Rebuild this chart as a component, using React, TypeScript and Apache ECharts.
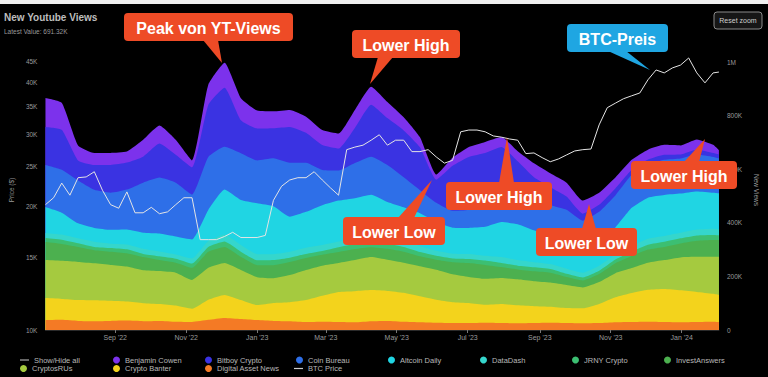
import React, { useEffect, useRef } from "react";
import * as echarts from "echarts";

// ---- data (views in thousands, BTC price in thousand USD) ----
const dates = [
  "2022-07-03","2022-07-17","2022-07-31","2022-08-14","2022-08-28","2022-09-11","2022-09-25","2022-10-09","2022-10-23","2022-11-06",
  "2022-11-20","2022-12-04","2022-12-18","2023-01-01","2023-01-15","2023-01-29","2023-02-12","2023-02-26","2023-03-12","2023-03-26",
  "2023-04-09","2023-04-23","2023-05-07","2023-05-21","2023-06-04","2023-06-18","2023-07-02","2023-07-16","2023-07-30","2023-08-13",
  "2023-08-27","2023-09-10","2023-09-24","2023-10-08","2023-10-22","2023-11-05","2023-11-19","2023-12-03","2023-12-17","2023-12-31",
  "2024-01-14","2024-01-28","2024-02-02"
];
const digitalAssetNews = [37,38,34,33,34,35,33,34,31,30,38,45,41,37,34,33,30,31,30,29,33,34,31,29,27,26,26,27,26,25,26,27,26,25,26,29,30,31,30,29,30,31,30];
const cryptoBanter = [82,78,78,78,75,71,67,63,60,49,75,86,71,56,67,71,82,97,112,116,116,112,108,97,86,78,75,67,71,67,63,60,56,56,71,93,108,119,123,119,112,104,101];
const cryptosRUs = [142,142,142,138,134,131,123,123,123,108,119,119,112,104,92,101,112,112,108,116,123,116,112,112,112,104,97,97,97,97,93,90,86,78,82,90,93,101,108,123,131,138,142];
const investAnswers = [67,63,56,49,49,49,49,41,37,45,60,60,49,45,49,49,45,41,41,41,37,41,41,37,37,45,52,52,41,37,37,37,30,26,30,37,45,49,49,52,60,63,63];
const jrnyCrypto = [15,16,14,12,14,15,12,14,15,16,18,20,19,18,19,16,15,14,18,19,20,19,18,16,15,14,15,16,15,14,15,14,12,11,12,14,16,18,19,19,20,19,18];
const dataDash = [19,19,18,19,16,18,19,18,16,19,22,26,25,23,22,22,23,22,21,22,23,22,21,22,19,18,19,18,22,21,19,18,19,18,19,19,22,23,22,21,22,23,22];
const altcoinDaily = [97,82,56,52,52,56,60,67,67,71,116,168,168,190,179,131,134,149,153,149,153,134,127,123,108,97,97,108,131,134,119,101,101,108,97,101,142,153,153,146,142,134,134];
const coinBureau = [157,160,160,142,138,149,187,209,201,168,198,160,175,160,179,201,183,131,112,131,142,138,112,86,71,63,67,75,82,104,112,119,119,86,104,119,123,123,131,131,138,134,131];
const bitboyCrypto = [142,149,75,93,104,101,97,127,104,101,194,220,123,119,112,134,112,93,82,131,194,175,175,160,86,168,198,201,198,131,86,67,49,26,26,26,19,19,19,15,19,15,15];
const benjaminCowen = [108,101,56,45,45,41,63,67,56,26,75,93,82,67,63,63,60,56,56,67,67,60,49,37,19,30,37,41,37,37,52,52,52,49,45,41,37,37,37,34,37,30,15];

const btcDates = [
  "2022-07-03","2022-07-10","2022-07-17","2022-07-24","2022-07-31","2022-08-07","2022-08-14","2022-08-21","2022-08-28","2022-09-04",
  "2022-09-11","2022-09-18","2022-09-25","2022-10-02","2022-10-09","2022-10-16","2022-10-23","2022-10-30","2022-11-06","2022-11-13",
  "2022-11-20","2022-11-27","2022-12-04","2022-12-11","2022-12-18","2022-12-25","2023-01-01","2023-01-08","2023-01-15","2023-01-22",
  "2023-01-29","2023-02-05","2023-02-12","2023-02-19","2023-02-26","2023-03-05","2023-03-12","2023-03-19","2023-03-26","2023-04-02",
  "2023-04-09","2023-04-16","2023-04-23","2023-04-30","2023-05-07","2023-05-14","2023-05-21","2023-05-28","2023-06-04","2023-06-11",
  "2023-06-18","2023-06-25","2023-07-02","2023-07-09","2023-07-16","2023-07-23","2023-07-30","2023-08-06","2023-08-13","2023-08-20",
  "2023-08-27","2023-09-03","2023-09-10","2023-09-17","2023-09-24","2023-10-01","2023-10-08","2023-10-15","2023-10-22","2023-10-29",
  "2023-11-05","2023-11-12","2023-11-19","2023-11-26","2023-12-03","2023-12-10","2023-12-17","2023-12-24","2023-12-31","2024-01-07",
  "2024-01-14","2024-01-21","2024-01-28","2024-02-02"
];
const btcPrice = [
  20.2,21.0,22.8,21.3,23.5,23.6,24.3,21.9,20.2,19.8,
  21.7,19.3,19.3,19.9,19.2,19.4,20.2,21.0,21.0,16.6,
  16.6,16.6,16.9,17.3,16.8,16.8,16.8,17.0,20.7,22.4,
  23.2,23.5,23.5,24.3,23.2,22.2,21.3,27.5,27.9,28.2,
  29.0,29.9,28.2,29.0,29.0,27.2,27.2,27.5,26.4,25.5,
  25.9,30.4,30.7,30.7,30.4,29.7,29.5,29.2,29.0,26.9,
  27.0,26.3,25.7,26.1,26.7,27.3,27.5,27.6,31.6,34.8,
  35.7,36.6,37.2,37.8,40.7,43.0,42.3,43.5,44.2,46.0,
  42.3,40.0,42.3,42.5
];

const priceTicks = [10, 15, 20, 25, 30, 35, 40, 45];
const viewTicks = [0, 200, 400, 600, 800, 1000];
const xTickDates = ["2022-09-01","2022-11-01","2023-01-01","2023-03-01","2023-05-01","2023-07-01","2023-09-01","2023-11-01","2024-01-01"];
const xTickLabels = ["Sep '22","Nov '22","Jan '23","Mar '23","May '23","Jul '23","Sep '23","Nov '23","Jan '24"];

const toTs = (s: string) => {
  const [y, m, d] = s.split("-").map(Number);
  return Date.UTC(y, m - 1, d);
};

const FONT = '"Liberation Sans", Arial, sans-serif';

export default function App() {
  const ref = useRef<HTMLDivElement>(null);
  useEffect(() => {
    if (!ref.current) return;
    const chart = echarts.init(ref.current, null, { renderer: "svg" });

    // bottom to top stacking order
    const stackDefs = [
      { name: "Digital Asset News", data: digitalAssetNews, color: "#f47a25" },
      { name: "Crypto Banter", data: cryptoBanter, color: "#f3d31c" },
      { name: "CryptosRUs", data: cryptosRUs, color: "#a5ca3f" },
      { name: "InvestAnswers", data: investAnswers, color: "#4cb04f" },
      { name: "JRNY Crypto", data: jrnyCrypto, color: "#3cbf72" },
      { name: "DataDash", data: dataDash, color: "#35d6cc" },
      { name: "Altcoin Daily", data: altcoinDaily, color: "#20d5e3" },
      { name: "Coin Bureau", data: coinBureau, color: "#2e6fe8" },
      { name: "Bitboy Crypto", data: bitboyCrypto, color: "#3a33e2" },
      { name: "Benjamin Cowen", data: benjaminCowen, color: "#7c32ec" },
    ];
    const colorOf: Record<string, string> = {};
    stackDefs.forEach((s) => (colorOf[s.name] = s.color));
    colorOf["Show/Hide all"] = "#aaaaaa";
    colorOf["BTC Price"] = "#cccccc";

    const xTickTs = xTickDates.map(toTs);

    // cumulative totals (stack) computed from the band arrays
    const running = dates.map(() => 0);
    const cumulative = stackDefs.map((s) => {
      const vals = s.data.map((v, i) => (running[i] += v));
      return { ...s, cum: vals };
    });

    // draw the top band (largest total) first so lower bands sit over it
    const series: any[] = cumulative
      .slice()
      .reverse()
      .map((s) => ({
        type: "line",
        name: s.name,
        yAxisIndex: 1,
        data: dates.map((d, i) => [toTs(d), s.cum[i]]),
        symbol: "none",
        smooth: 0.15,
        lineStyle: { width: 0 },
        areaStyle: { color: s.color, opacity: 1 },
        itemStyle: { color: s.color },
        emphasis: { disabled: true },
        z: 2,
      }));
    series.push({
      type: "line",
      name: "BTC Price",
      yAxisIndex: 0,
      data: btcDates.map((d, i) => [toTs(d), Math.log10(btcPrice[i] * 1000)]),
      symbol: "none",
      lineStyle: { color: "#e4e4e4", width: 1 },
      itemStyle: { color: "#cccccc" },
      emphasis: { disabled: true },
      z: 5,
    });
    series.push({
      type: "line",
      name: "Show/Hide all",
      yAxisIndex: 0,
      data: [],
      itemStyle: { color: "#aaaaaa" },
    });

    const legendLayout = [
      { name: "Show/Hide all", left: 20, top: 356, line: true },
      { name: "Benjamin Cowen", left: 113, top: 356 },
      { name: "Bitboy Crypto", left: 205, top: 356 },
      { name: "Coin Bureau", left: 296, top: 356 },
      { name: "Altcoin Daily", left: 388, top: 356 },
      { name: "DataDash", left: 480, top: 356 },
      { name: "JRNY Crypto", left: 572, top: 356 },
      { name: "InvestAnswers", left: 664, top: 356 },
      { name: "CryptosRUs", left: 20, top: 364.5 },
      { name: "Crypto Banter", left: 113, top: 364.5 },
      { name: "Digital Asset News", left: 205, top: 364.5 },
      { name: "BTC Price", left: 294, top: 364.5, line: true },
    ];
    const legends = legendLayout.map((l) => ({
      data: [{ name: l.name, icon: l.line ? "rect" : "circle", itemStyle: { color: colorOf[l.name] } }],
      left: l.left,
      top: l.top,
      padding: 0,
      itemGap: 0,
      itemWidth: l.line ? 9 : 7,
      itemHeight: l.line ? 1.2 : 7,
      selectedMode: false,
      textStyle: { color: "#b8b8b8", fontSize: 7.5, fontFamily: FONT },
    }));

    const callout = (text: string, x: number, y: number, w: number, h: number, poly: number[][], color: string) => ({
      type: "group",
      z: 100,
      children: [
        { type: "polygon", z: 100, shape: { points: poly }, style: { fill: color } },
        { type: "rect", z: 100, shape: { x, y, width: w, height: h, r: 4 }, style: { fill: color } },
        {
          type: "text",
          z: 101,
          style: {
            text,
            x: x + w / 2,
            y: y + h / 2 + 1,
            align: "center",
            verticalAlign: "middle",
            fill: "#ffffff",
            fontSize: 16,
            fontWeight: "bold",
            fontFamily: FONT,
          },
        },
      ],
    });
    const RED = "#ee4b26";
    const BLUE = "#1fa6e2";

    const option: any = {
      animation: false,
      backgroundColor: "#000000",
      grid: { left: 37, right: 44, top: 50, bottom: 47 },
      xAxis: {
        type: "value",
        min: toTs("2022-07-03"),
        max: toTs("2024-02-02"),
        axisLine: { show: true, lineStyle: { color: "#2a2a2a" } },
        axisTick: { show: true, customValues: xTickTs, length: 3, lineStyle: { color: "#777" } },
        axisLabel: {
          customValues: xTickTs,
          formatter: (v: number) => {
            const idx = xTickTs.findIndex((t) => Math.abs(t - v) < 43200000);
            return idx >= 0 ? xTickLabels[idx] : "";
          },
          color: "#9a9a9a",
          fontSize: 7,
          fontFamily: FONT,
          margin: 4,
        },
        splitLine: { show: false },
      },
      yAxis: [
        {
          type: "value",
          position: "left",
          min: 4,
          max: Math.log10(48100),
          axisLine: { show: false },
          axisTick: { show: false },
          splitLine: { show: false },
          axisLabel: {
            customValues: priceTicks.map((t) => Math.log10(t * 1000)),
            formatter: (v: number) => Math.round(Math.pow(10, v) / 1000) + "K",
            color: "#9a9a9a",
            fontSize: 6.5,
            fontFamily: FONT,
            margin: 8,
          },
          name: "Price ($)",
          nameLocation: "middle",
          nameGap: 30,
          nameRotate: 90,
          nameTextStyle: { color: "#9a9a9a", fontSize: 6.5, fontFamily: FONT },
        },
        {
          type: "value",
          position: "right",
          min: 0,
          max: 1045,
          axisLine: { show: false },
          axisTick: { show: false },
          splitLine: { show: false },
          axisLabel: {
            customValues: viewTicks,
            formatter: (v: number) => (v === 0 ? "0" : v >= 1000 ? v / 1000 + "M" : v + "K"),
            color: "#9a9a9a",
            fontSize: 6.5,
            fontFamily: FONT,
            margin: 8,
          },
          name: "New Views",
          nameLocation: "middle",
          nameGap: 26,
          nameRotate: -90,
          nameTextStyle: { color: "#9a9a9a", fontSize: 6.5, fontFamily: FONT },
        },
      ],
      legend: legends,
      series,
      graphic: [
        { type: "rect", z: 100, shape: { x: 0, y: 0, width: 768, height: 4 }, style: { fill: "#f0f0f0" } },
        {
          type: "text", z: 100,
          style: { text: "New Youtube Views", x: 4, y: 17, verticalAlign: "middle", fill: "#bdbdbd", fontSize: 10, fontWeight: "bold", fontFamily: FONT },
        },
        {
          type: "text", z: 100,
          style: { text: "Latest Value: 691.32K", x: 4, y: 31, verticalAlign: "middle", fill: "#9a9a9a", fontSize: 6.5, fontFamily: FONT },
        },
        { type: "rect", z: 100, shape: { x: 714, y: 12, width: 48, height: 17, r: 3 }, style: { fill: "#161616", stroke: "#8a8a8a", lineWidth: 1 } },
        {
          type: "text", z: 101,
          style: { text: "Reset zoom", x: 738, y: 20.5, align: "center", verticalAlign: "middle", fill: "#cfcfcf", fontSize: 7, fontFamily: FONT },
        },
        callout("Peak von YT-Views", 124, 13, 169, 28, [[203, 40], [218, 40], [222, 63]], RED),
        callout("Lower High", 352, 30, 108, 28, [[378, 57], [393, 57], [370, 84]], RED),
        callout("BTC-Preis", 567, 24, 101, 28, [[608, 51], [626, 51], [650, 70]], BLUE),
        callout("Lower Low", 343, 217, 102, 28, [[398, 218], [414, 218], [432, 180]], RED),
        callout("Lower High", 446, 182, 106, 28, [[499, 183], [514, 183], [507, 137]], RED),
        callout("Lower Low", 536, 228, 101, 28, [[582, 229], [596, 229], [589, 204]], RED),
        callout("Lower High", 631, 161, 106, 28, [[684, 162], [699, 162], [705, 139]], RED),
      ],
    };
    chart.setOption(option);
    return () => chart.dispose();
  }, []);

  return (
    <div
      ref={ref}
      style={{ position: "fixed", left: 0, top: 0, width: 768, height: 377, background: "#000" }}
    />
  );
}
